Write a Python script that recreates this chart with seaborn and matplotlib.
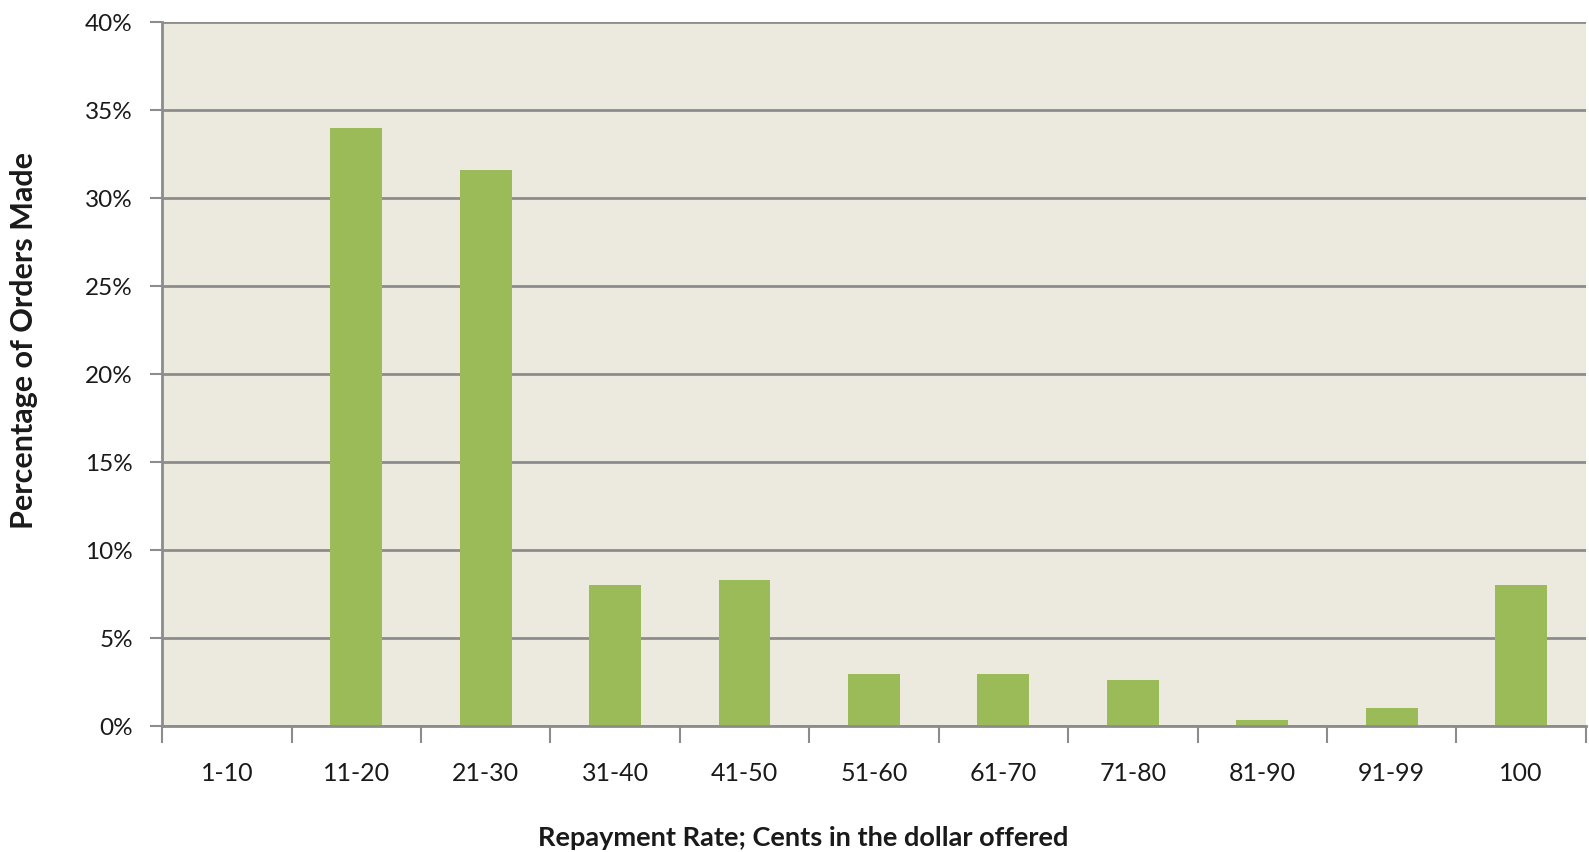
import numpy as np
import pandas as pd
import matplotlib.pyplot as plt
import seaborn as sns

categories = ['1-10', '11-20', '21-30', '31-40', '41-50', '51-60',
              '61-70', '71-80', '81-90', '91-99', '100']
percent = [0.0, 34.0, 31.6, 8.0, 8.3, 3.0, 3.0, 2.65, 0.35, 1.05, 8.0]
yticks = [0, 5, 10, 15, 20, 25, 30, 35, 40]

df = pd.DataFrame({'rate': categories, 'pct': percent})

sns.set_style('white')
plt.rcParams['font.family'] = ['Lato', 'DejaVu Sans']

fig = plt.figure(figsize=(15.89, 8.52), dpi=100)
ax = fig.add_axes([0.102, 0.1475, 0.896, 0.8265])
ax.set_facecolor('#ECEADF')

sns.barplot(data=df, x='rate', y='pct', color='#9BBB59', width=0.4,
            saturation=1, linewidth=0, edgecolor='none', ax=ax, zorder=3)

ax.set_ylim(0, 40)
ax.set_xlim(-0.5, len(categories) - 0.5)
ax.set_yticks(yticks)
ax.set_yticklabels([f'{t}%' for t in yticks])
ax.yaxis.grid(True, color='#8C8C8C', linewidth=2, zorder=1)
ax.set_axisbelow(True)

for s in ['top', 'right']:
    ax.spines[s].set_visible(False)
for s in ['left', 'bottom']:
    ax.spines[s].set_color('#8C8C8C')
    ax.spines[s].set_linewidth(2)
    ax.spines[s].set_zorder(4)

# category boundary ticks below the axis
ax.set_xticks(np.arange(-0.5, len(categories)), minor=True)
ax.tick_params(axis='x', which='minor', bottom=True, length=12, width=1.5,
               color='#8C8C8C', direction='out')
ax.tick_params(axis='x', which='major', bottom=True, length=0, pad=26,
               labelsize=18, labelcolor='#1A1A1A')
ax.tick_params(axis='y', length=9, width=1.5, color='#8C8C8C', direction='out', left=True,
               pad=12, labelsize=17.5, labelcolor='#1A1A1A')

ax.set_xlabel('Repayment Rate; Cents in the dollar offered', fontsize=19.5,
              fontweight='bold', color='#1A1A1A')
ax.xaxis.set_label_coords(0.45, -0.142)
ax.set_ylabel('Percentage of Orders Made', fontsize=22, fontweight='bold',
              color='#1A1A1A')
ax.yaxis.set_label_coords(-0.087, 0.548)

fig.savefig('out.png', dpi=100)
